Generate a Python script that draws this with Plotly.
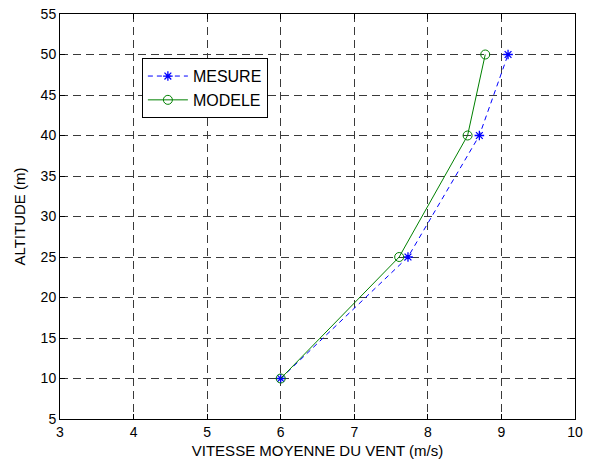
import plotly.graph_objects as go

altitude = [10, 25, 40, 50]
mesure = [6.0, 7.73, 8.70, 9.09]
modele = [6.0, 7.61, 8.54, 8.78]
x_ticks = [3, 4, 5, 6, 7, 8, 9, 10]
y_ticks = [5, 10, 15, 20, 25, 30, 35, 40, 45, 50, 55]

FONT = "Liberation Sans, Arial"

fig = go.Figure()
fig.add_trace(go.Scatter(x=mesure, y=altitude, name="MESURE", mode="lines+markers",
                         line=dict(color="#0000ff", dash="5px,4px", width=1),
                         marker=dict(symbol="asterisk", size=8, color="#0000ff",
                                     line=dict(color="#0000ff", width=1.3))))
fig.add_trace(go.Scatter(x=modele, y=altitude, name="MODELE", mode="lines+markers",
                         line=dict(color="#008000", width=1),
                         marker=dict(symbol="circle-open", size=9, color="#008000",
                                     line=dict(color="#008000", width=1))))

axis_common = dict(showline=True, linecolor="black", linewidth=1, mirror="ticks",
                   ticks="inside", ticklen=5, tickcolor="black", automargin=False,
                   showgrid=True, gridcolor="#3a3a3a", griddash="8px,5px", gridwidth=1,
                   zeroline=False, tickfont=dict(family=FONT, size=14, color="black"))

fig.update_xaxes(range=[3, 10], tickvals=x_ticks, title=dict(text="VITESSE MOYENNE DU VENT (m/s)",
                 font=dict(family=FONT, size=15, color="black"), standoff=6),
                 **axis_common)
fig.update_yaxes(range=[5, 55], tickvals=y_ticks, title=dict(text="ALTITUDE (m)",
                 font=dict(family=FONT, size=15, color="black"), standoff=11),
                 **axis_common)

fig.update_layout(width=590, height=461, margin=dict(l=60, r=15, t=14, b=42),
                  plot_bgcolor="white", paper_bgcolor="white",
                  legend=dict(x=0.159, y=0.891, xanchor="left", yanchor="top",
                              bgcolor="white", bordercolor="black", borderwidth=1,
                              font=dict(family=FONT, size=16, color="black"),
                              tracegroupgap=0, itemwidth=40),
                  showlegend=True)

fig.write_html("out.html", config={"displayModeBar": False},
               post_script="document.body.style.margin='0';")
